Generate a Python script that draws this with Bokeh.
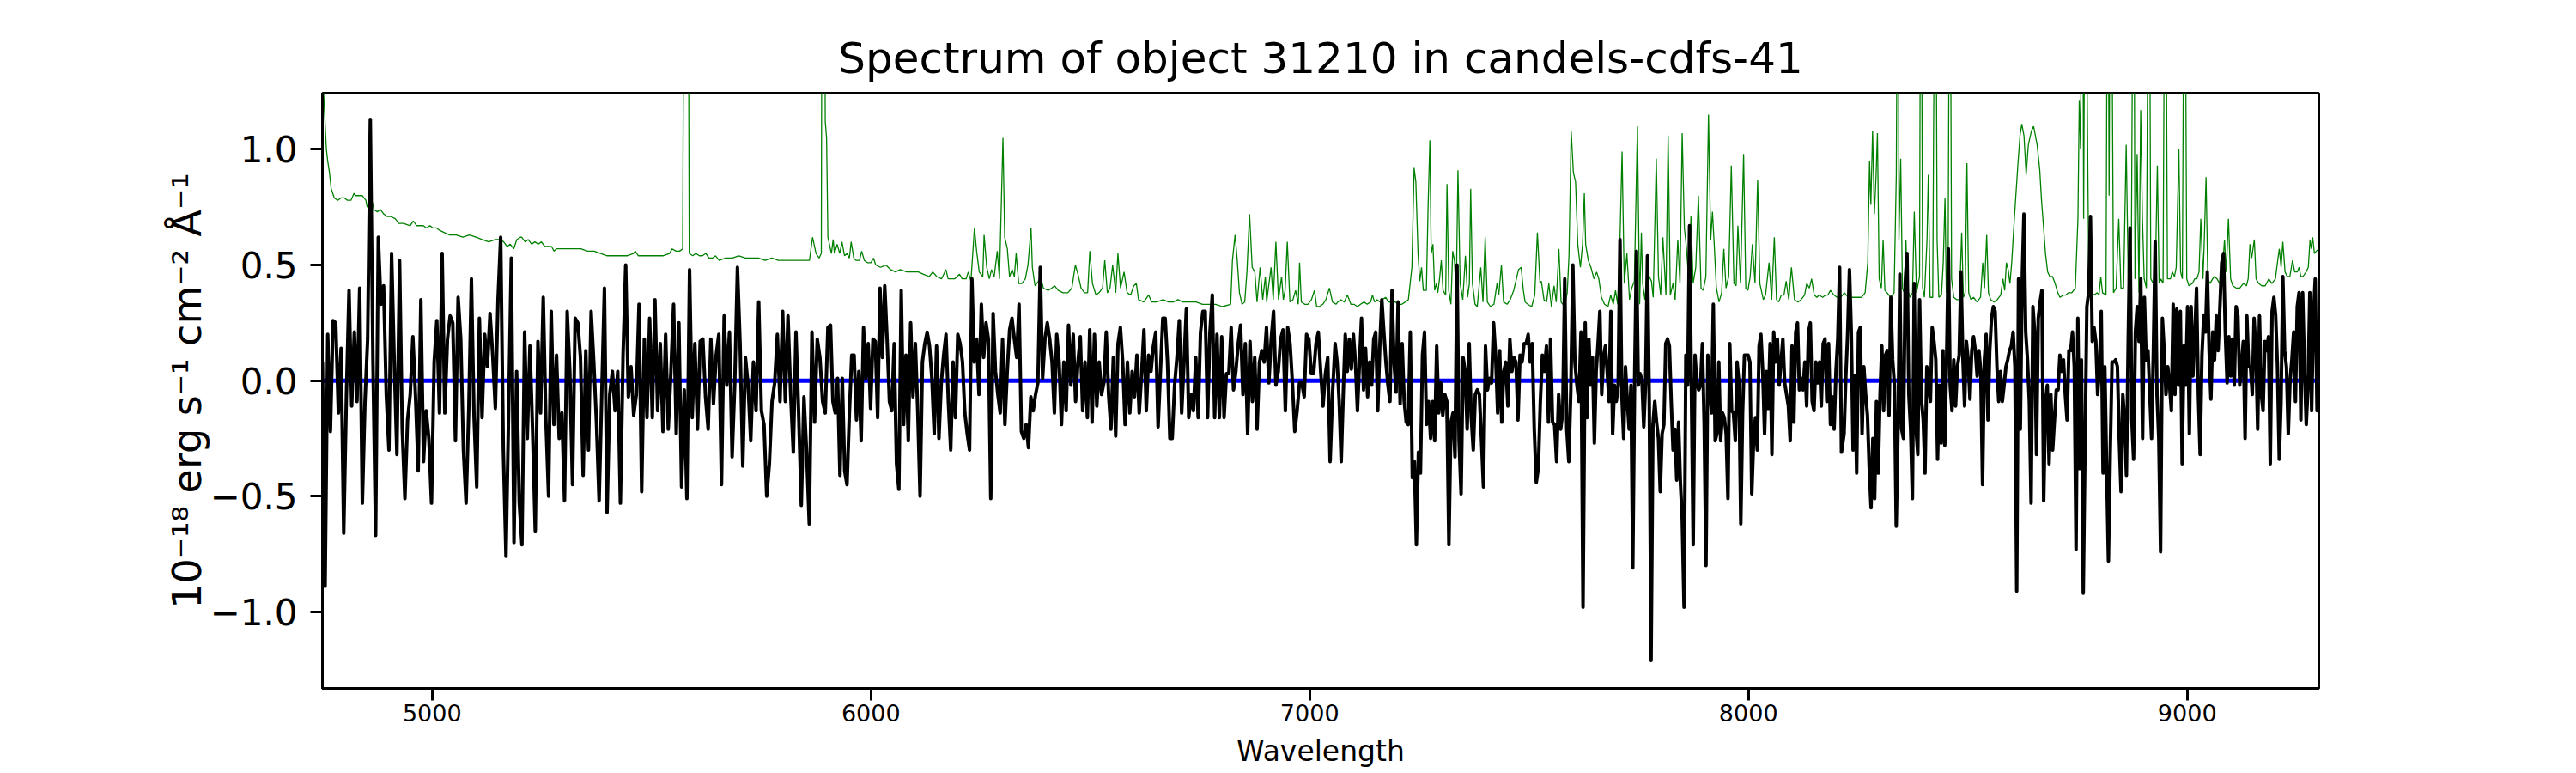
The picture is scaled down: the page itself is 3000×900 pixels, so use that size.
import numpy as np
from bokeh.plotting import figure
from bokeh.models import Range1d, FixedTicker
from bokeh.embed import file_html
from bokeh.resources import INLINE

title_text = "Spectrum of object 31210 in candels-cdfs-41"
x_label = "Wavelength"
y_label = "10⁻¹⁸ erg s⁻¹ cm⁻² Å⁻¹"

x_ticks = [5000, 6000, 7000, 8000, 9000]
x_tick_labels = ["5000", "6000", "7000", "8000", "9000"]
y_ticks = [-1.0, -0.5, 0.0, 0.5, 1.0]
y_tick_labels = ["−1.0", "−0.5", "0.0", "0.5", "1.0"]

# observed flux (black), read in wavelength segments
seg1_range = (4750, 5902)
seg1_flux = [0.08, -0.89, 0.20, -0.22, 0.26, 0.25, -0.14, 0.14, -0.66, -0.07, 0.39, -0.11, 0.21, -0.09, 0.40,
             -0.53, -0.09, 0.18, 1.13, 0.08, -0.67, 0.62, 0.33, 0.41, -0.06, -0.30, 0.55, 0.08, -0.32, 0.52,
             -0.21, -0.51, -0.17, -0.06, 0.19, -0.07, -0.39, 0.35, -0.35, -0.13, -0.25, -0.53, 0.08, 0.26, -0.14,
             0.55, -0.14, 0.18, 0.28, 0.25, -0.26, 0.36, 0.18, -0.30, -0.53, -0.13, 0.44, -0.16, -0.46, 0.27,
             -0.16, 0.20, 0.06, 0.29, 0.11, -0.12, 0.35, 0.62, -0.30, -0.76, -0.13, 0.53, -0.70, 0.04, -0.53,
             -0.71, 0.21, -0.25, 0.15, -0.22, -0.65, 0.17, -0.14, 0.36, -0.17, -0.50, 0.30, -0.19, 0.11, -0.25,
             -0.14, -0.52, 0.30, 0.04, -0.45, 0.27, 0.25, 0.10, -0.41, 0.13, -0.30, 0.30, 0.08, -0.18, -0.52,
             -0.06, 0.40, -0.57, -0.06, 0.04, -0.13, 0.04, -0.53, 0.11, 0.50, -0.07, 0.06, -0.15, -0.06, 0.33,
             -0.48, 0.18, -0.16, 0.27, -0.16, 0.35, -0.13, 0.16, -0.22, 0.20, -0.21, 0.04, 0.33, -0.23, 0.25,
             -0.46, -0.04, -0.51, 0.48, -0.16, 0.16, -0.21, 0.17, 0.18, -0.07, -0.21, 0.18, -0.10, 0.11, 0.20,
             -0.45, 0.28, -0.02, 0.21, -0.33, -0.01, 0.49, 0.16, -0.37, 0.10, -0.02, -0.26, 0.08, -0.13, 0.34,
             -0.13, -0.19, -0.50, -0.36, -0.09, -0.01, 0.20, -0.09, 0.30, -0.09, 0.28, -0.06, -0.31, 0.21, -0.14,
             -0.54, -0.07, -0.31, -0.62, 0.21, -0.18, 0.18, 0.10, -0.09, -0.14, 0.23]

seg2_range = (5908, 7052)
seg2_flux = [0.24, -0.09, -0.14, 0.01, -0.41, 0.01, -0.39, -0.45, -0.14, 0.11, 0.11, -0.17, 0.04, -0.26, 0.23,
             0.01, 0.16, -0.12, 0.18, 0.17, -0.16, 0.40, 0.10, 0.41, 0.18, -0.09, -0.13, 0.16, -0.36, -0.47,
             0.39, -0.19, 0.11, -0.26, 0.25, -0.07, 0.16, -0.13, -0.50, 0.08, 0.16, 0.21, 0.15, 0.01, -0.23,
             0.15, -0.25, -0.01, 0.11, 0.20, -0.09, -0.30, 0.08, -0.16, 0.20, 0.16, 0.08, -0.14, -0.23, -0.30,
             0.44, 0.08, 0.18, -0.06, 0.33, 0.10, 0.25, 0.18, -0.51, 0.29, 0.04, -0.06, -0.14, 0.18, -0.19,
             0.04, 0.22, 0.27, 0.18, 0.10, 0.33, -0.22, -0.25, -0.19, -0.29, -0.07, -0.13, -0.06, -0.01, 0.49,
             0.01, 0.18, 0.25, 0.18, 0.08, -0.14, 0.20, 0.08, -0.19, 0.08, -0.13, 0.24, -0.02, 0.20, -0.09,
             0.08, 0.19, -0.13, 0.08, -0.16, 0.22, -0.18, 0.20, -0.11, 0.08, -0.06, -0.01, 0.21, -0.06, -0.21,
             0.10, -0.24, 0.16, 0.23, 0.08, -0.19, 0.08, -0.14, 0.04, -0.07, 0.11, -0.14, 0.03, 0.22, -0.13,
             0.11, 0.04, 0.15, 0.21, -0.20, 0.04, 0.27, 0.27, 0.08, -0.25, -0.25, -0.02, 0.10, 0.26, -0.14,
             0.08, 0.31, -0.16, -0.06, -0.13, 0.10, -0.16, 0.21, 0.30, 0.30, -0.16, 0.21, 0.37, -0.16, 0.20,
             -0.16, 0.19, -0.16, 0.03, 0.03, 0.23, -0.04, 0.04, 0.16, 0.24, -0.06, 0.16, -0.23, 0.17, -0.09,
             0.10, -0.21, 0.08, 0.13, 0.08, 0.23, -0.01, 0.18, 0.30, -0.02, 0.04, 0.18, 0.22, -0.13, 0.23,
             0.16, -0.01, -0.22, -0.13, -0.01, -0.01, -0.07, 0.20, 0.18, 0.03, 0.03, 0.16, 0.21, 0.04, -0.11,
             0.03, 0.10, -0.35, -0.06]

seg3a_range = (7058, 7623)
seg3a_flux = [0.16, 0.08, -0.09, -0.35, -0.06, 0.20, 0.04, 0.18, 0.05, 0.20, 0.08, -0.13, 0.08, 0.27, -0.04,
              0.14, -0.07, 0.08, -0.02, 0.18, 0.21, -0.13, 0.15, 0.35, 0.21, 0.08, -0.02, -0.09, 0.39, 0.08,
              -0.05, 0.34, -0.10, 0.16, -0.09, -0.18, -0.19, 0.21, -0.42, -0.35, -0.71, -0.31, -0.40, 0.11, 0.21,
              -0.19, -0.09, -0.25, -0.09, -0.26, 0.15, -0.14, -0.01, -0.15, -0.06, -0.09, -0.71, -0.18, -0.14, -0.33,
              0.50, -0.26, -0.49, 0.10, 0.04, -0.21, 0.16, -0.16, -0.30, -0.06, -0.04, -0.06, -0.25, -0.46, 0.15,
              -0.04, 0.01, -0.01, 0.25, 0.11, -0.14, 0.13, -0.18, 0.04, 0.08, -0.11, 0.18, 0.04, 0.10, 0.08,
              -0.17, 0.11, 0.08, 0.16, 0.16, 0.20, 0.08, 0.16, -0.21, -0.44, -0.38, -0.09, 0.11, 0.04, 0.15,
              -0.18, 0.18, -0.18, -0.19, -0.35, -0.06, -0.21, -0.14, 0.44, -0.21, -0.35, -0.04, 0.50, 0.08, -0.02,
              -0.09, 0.21, -0.98]

seg3b_range = (7628, 8212)
seg3b_flux = [0.25, -0.16, 0.18, -0.02, 0.10, -0.27, 0.04, 0.16, 0.30, -0.06, 0.10, 0.15,
              0.04, -0.09, 0.30, -0.23, -0.02, -0.09, -0.02, 0.61, -0.06, -0.25, 0.06, -0.09, -0.21, -0.02, -0.81,
              0.01, 0.56, -0.02, 0.03, 0.00, -0.20, -0.01, 0.54, -0.09, -1.21, -0.19, -0.09, -0.18, -0.25, -0.48,
              -0.23, -0.19, 0.16, 0.18, 0.15, -0.09, -0.30, -0.21, -0.43, -0.18, -0.44, -0.60, -0.98, 0.11, -0.02,
              0.67, -0.02, -0.71, 0.11, -0.01, -0.04, -0.02, 0.16, -0.19, -0.80, 0.11, -0.02, -0.14, 0.33, -0.26,
              -0.23, 0.08, -0.26, -0.14, -0.16, -0.23, -0.51, 0.16, -0.13, -0.14, -0.26, 0.08, -0.01, -0.62, -0.14,
              0.11, 0.11, 0.11, 0.08, -0.49, -0.26, -0.16, -0.30, 0.15, 0.20, 0.04, -0.23, 0.04, -0.12, 0.16,
              -0.32, 0.21, 0.08, 0.18, -0.02, 0.08, 0.18, -0.01, -0.06, -0.11, -0.26, 0.15, -0.18, 0.21, 0.25,
              -0.04, 0.01, -0.04, 0.08, -0.11, 0.21, 0.25, -0.09, -0.13, 0.08, -0.01, 0.08, -0.11, 0.16, 0.18,
              -0.09, 0.16, -0.19, -0.07, -0.21, 0.04, 0.18, 0.49, -0.31]

seg4_range = (8218, 9300)
seg4_flux = [-0.23, 0.02, 0.21, 0.48, 0.21, -0.30, 0.02, -0.40, 0.21, 0.23, -0.23, 0.06, -0.06, -0.15, -0.38,
             -0.55, -0.25, -0.51, -0.09, -0.40, -0.06, 0.15, -0.13, 0.11, 0.13, -0.15, 0.36, 0.09, -0.02, -0.63,
             -0.21, 0.46, -0.21, -0.25, 0.42, 0.55, -0.06, -0.21, -0.51, 0.42, -0.21, -0.32, 0.35, -0.08, -0.17,
             -0.40, 0.06, -0.02, -0.09, 0.23, 0.17, 0.09, -0.34, -0.02, -0.27, 0.13, -0.28, 0.09, 0.57, -0.02,
             -0.13, 0.09, -0.11, 0.06, 0.11, 0.47, 0.11, -0.11, 0.17, 0.09, -0.08, 0.13, 0.19, 0.13, 0.02,
             0.13, 0.04, -0.45, 0.09, 0.20, -0.17, 0.13, 0.27, 0.32, 0.30, 0.06, -0.09, 0.04, -0.09, -0.02,
             0.06, 0.09, 0.13, 0.15, 0.21, 0.06, -0.91, 0.44, -0.21, 0.42, 0.72, 0.21, 0.09, -0.09, -0.53,
             0.32, 0.21, -0.32, 0.27, 0.34, 0.39, -0.52, -0.09, -0.02, -0.36, -0.06, -0.30, -0.17, -0.04, -0.04,
             0.11, 0.04, 0.09, -0.06, -0.17, 0.13, 0.13, 0.21, 0.06, -0.73, 0.27, -0.38, 0.09, -0.92, -0.28,
             0.32, 0.38, 0.71, 0.17, 0.23, 0.17, -0.06, 0.06, 0.30, -0.40, 0.06, -0.38, -0.78, -0.32, 0.08,
             0.08, 0.09, 0.06, -0.25, -0.48, -0.06, -0.17, -0.41, 0.17, 0.66, -0.17, -0.34, 0.21, 0.32, 0.17,
             0.44, -0.25, 0.36, 0.09, 0.13, -0.06, -0.25, 0.13, 0.60, -0.06, -0.25, -0.74, 0.27, 0.13, -0.06,
             0.06, -0.02, -0.13, 0.33, -0.06, 0.31, -0.02, 0.30, -0.36, 0.15, -0.02, 0.32, -0.23, 0.32, 0.02,
             0.19, 0.40, -0.06, -0.32, 0.11, 0.28, 0.21, 0.47, 0.13, -0.08, 0.21, 0.09, 0.28, 0.13, 0.32,
             0.51, 0.55, 0.21, -0.01, 0.19, 0.02, 0.18, -0.02, 0.32, 0.28, -0.02, 0.06, 0.17, -0.25, 0.28,
             0.06, 0.06, -0.06, 0.27, 0.13, -0.21, 0.28, -0.06, -0.13, 0.17, 0.13, 0.19, -0.36, 0.30, 0.36,
             0.28, 0.06, -0.34, -0.09, 0.45, 0.13, 0.06, -0.23, 0.00, 0.09, 0.21, -0.09, 0.32, 0.38, -0.17,
             0.38, 0.06, -0.19, -0.02, 0.38, -0.13, 0.28, 0.44, -0.13, -0.06]

# sky / noise spectrum (green)
sky_wave = [4750, 4759, 4762, 4766, 4770, 4777, 4785, 4792, 4800, 4807, 4815, 4822, 4826, 4834, 4841, 4849,
            4852, 4856, 4864, 4867, 4875, 4882, 4890, 4897, 4905, 4916, 4924, 4935, 4950, 4957, 4965, 4976,
            4980, 4987, 4995, 5002, 5010, 5017, 5028, 5040, 5047, 5055, 5070, 5085, 5100, 5114, 5129, 5144,
            5156, 5163, 5171, 5178, 5186, 5193, 5201, 5204, 5212, 5219, 5227, 5234, 5242, 5249, 5257, 5264,
            5272, 5278, 5283, 5291, 5302, 5317, 5332, 5339, 5354, 5369, 5384, 5399, 5414, 5429, 5444, 5459,
            5463, 5470, 5482, 5496, 5511, 5526, 5541, 5547, 5556, 5564, 5571, 5575, 5579, 5583, 5586, 5594,
            5601, 5609, 5616, 5624, 5631, 5639, 5646, 5654, 5669, 5684, 5699, 5714, 5729, 5744, 5759, 5774,
            5789, 5804, 5819, 5834, 5849, 5860, 5867, 5875, 5882, 5887, 5889, 5893, 5896, 5899, 5902,
            5910, 5914, 5917, 5923, 5929, 5934, 5940, 5946, 5951, 5955, 5961, 5966, 5974, 5979, 5985, 5992,
            6000, 6006, 6011, 6022, 6034, 6045, 6056, 6067, 6082, 6097, 6108, 6120, 6133, 6141, 6150, 6161,
            6171, 6176, 6191, 6202, 6208, 6217, 6222, 6228, 6236, 6241, 6247, 6255, 6258, 6264, 6270, 6275,
            6281, 6288, 6293, 6301, 6305, 6311, 6316, 6322, 6327, 6331, 6337, 6344, 6352, 6358, 6365, 6368,
            6374, 6382, 6387, 6393, 6404, 6412, 6419, 6427, 6438, 6449, 6458, 6466, 6472, 6479, 6487, 6494,
            6499, 6505, 6513, 6520, 6528, 6533, 6539, 6545, 6551, 6558, 6563, 6569, 6577, 6584, 6592, 6599,
            6605, 6610, 6622, 6633, 6640, 6651, 6666, 6678, 6689, 6700, 6711, 6719, 6734, 6741, 6756, 6771,
            6786, 6801, 6820, 6824, 6830, 6835, 6840, 6846, 6852, 6857, 6863, 6869, 6875, 6880, 6887, 6893,
            6899, 6902, 6908, 6912, 6917, 6923, 6929, 6936, 6940, 6944, 6949, 6955, 6962, 6968, 6974, 6977,
            6981, 6989, 6996, 7004, 7011, 7016, 7022, 7030, 7037, 7045, 7052, 7060,
            7064, 7071, 7079, 7086, 7094, 7101, 7109, 7116, 7124, 7131, 7139, 7143, 7148, 7154, 7160, 7165,
            7173, 7180, 7188, 7195, 7203, 7210, 7218, 7225, 7233, 7238, 7242, 7247, 7251, 7255, 7259, 7266,
            7270, 7274, 7277, 7281, 7285, 7289, 7292, 7296, 7300, 7304, 7310, 7313, 7317, 7322, 7326, 7330,
            7334, 7338, 7343, 7349, 7355, 7360, 7364, 7367, 7371, 7377, 7382, 7390, 7395, 7400, 7405, 7412,
            7420, 7427, 7431, 7437, 7442, 7450, 7457, 7465, 7470, 7476, 7482, 7487, 7491, 7497, 7506, 7513,
            7519, 7525, 7528, 7534, 7540, 7545, 7551, 7557, 7562, 7568, 7573, 7581, 7587, 7591, 7596, 7601,
            7606, 7611, 7617, 7622, 7626, 7629, 7635, 7641, 7648, 7654, 7659, 7665, 7672, 7680, 7686, 7692,
            7697, 7702, 7707, 7712, 7717, 7723, 7729, 7734, 7740, 7747, 7752, 7756, 7759, 7764, 7770, 7774,
            7779, 7783, 7790, 7795, 7800, 7805, 7812, 7817, 7822, 7828, 7833, 7839, 7844, 7849, 7854, 7858,
            7864, 7869, 7874, 7880, 7886, 7892, 7897, 7903, 7909, 7914, 7918, 7922, 7927, 7933, 7939, 7944,
            7949, 7955, 7961, 7967, 7972, 7976, 7982, 7989, 7994, 7999, 8004, 8009, 8015, 8021, 8026, 8034,
            8039, 8047, 8053, 8059, 8064, 8069, 8075, 8081, 8086, 8092, 8098, 8105, 8113, 8120, 8128, 8133,
            8139, 8144, 8150, 8156, 8161, 8169, 8176, 8181, 8187, 8195, 8202, 8210,
            8219, 8227, 8235, 8243, 8250, 8258, 8266, 8272, 8276, 8279, 8283, 8287, 8291, 8294, 8298, 8303,
            8307, 8311, 8316, 8324, 8332, 8337, 8341, 8343, 8347, 8351, 8355, 8359, 8362, 8368, 8374, 8378,
            8383, 8390, 8393, 8397, 8401, 8407, 8410, 8414, 8420, 8426, 8430, 8434, 8440, 8444, 8448, 8451,
            8455, 8459, 8463, 8468, 8475, 8481, 8486, 8490, 8494, 8498, 8502, 8507, 8513, 8521, 8529, 8534,
            8538, 8543, 8547, 8552, 8560, 8567, 8575, 8580, 8584, 8588, 8592, 8596, 8600, 8606, 8614, 8619,
            8623, 8628, 8633, 8638, 8645, 8650, 8654, 8658, 8664, 8668, 8672, 8677, 8682, 8687, 8693, 8699,
            8705, 8710, 8718, 8723, 8730, 8737, 8745, 8751, 8754, 8757, 8761, 8764, 8768, 8772, 8776, 8782,
            8788, 8795, 8799, 8803, 8807, 8815, 8819, 8822, 8826, 8832, 8838, 8844, 8849, 8855, 8861, 8866,
            8870, 8873, 8878, 8881, 8886, 8890, 8894, 8898, 8902, 8907, 8913, 8917, 8923, 8927, 8932, 8936,
            8940, 8945, 8950, 8955, 8962, 8966, 8971, 8975, 8981, 8985, 8989, 8994, 8999, 9004, 9012, 9017,
            9022, 9027, 9031, 9036, 9039, 9043, 9047, 9052, 9058, 9062, 9068, 9074, 9079, 9085, 9089, 9094,
            9099, 9104, 9112, 9120, 9128, 9135, 9139, 9143, 9147, 9153, 9157, 9163, 9170, 9178, 9186, 9193,
            9201, 9207, 9210, 9214, 9218, 9223, 9228, 9234, 9240, 9245, 9251, 9255, 9259, 9264, 9271, 9276,
            9280, 9283, 9286, 9290, 9294, 9300]
sky_flux = [1.35, 1.00, 0.95, 0.90, 0.83, 0.79, 0.78, 0.79, 0.79, 0.78, 0.78, 0.81, 0.80, 0.80, 0.80, 0.78,
            0.75, 0.76, 0.77, 0.74, 0.73, 0.74, 0.72, 0.71, 0.71, 0.70, 0.68, 0.68, 0.67, 0.69, 0.67, 0.67,
            0.67, 0.66, 0.67, 0.66, 0.66, 0.65, 0.64, 0.63, 0.63, 0.63, 0.62, 0.63, 0.62, 0.61, 0.60, 0.61,
            0.61, 0.60, 0.58, 0.59, 0.57, 0.61, 0.62, 0.62, 0.60, 0.61, 0.59, 0.60, 0.59, 0.60, 0.58, 0.58,
            0.58, 0.56, 0.57, 0.57, 0.57, 0.57, 0.57, 0.57, 0.56, 0.56, 0.55, 0.54, 0.54, 0.54, 0.54, 0.55,
            0.56, 0.54, 0.54, 0.54, 0.54, 0.54, 0.55, 0.57, 0.56, 0.56, 0.57, 2.50, 2.50, 2.50, 0.55, 0.54,
            0.55, 0.54, 0.54, 0.55, 0.53, 0.53, 0.54, 0.52, 0.53, 0.53, 0.54, 0.53, 0.53, 0.53, 0.52, 0.53,
            0.52, 0.52, 0.52, 0.52, 0.52, 0.52, 0.62, 0.55, 0.53, 0.55, 2.50, 2.50, 1.12, 1.05, 0.62,
            0.55, 0.61, 0.55, 0.59, 0.55, 0.60, 0.54, 0.55, 0.53, 0.60, 0.53, 0.52, 0.52, 0.56, 0.52, 0.51,
            0.51, 0.53, 0.50, 0.49, 0.50, 0.48, 0.47, 0.48, 0.47, 0.47, 0.47, 0.46, 0.45, 0.47, 0.45, 0.44,
            0.48, 0.44, 0.44, 0.46, 0.44, 0.44, 0.47, 0.43, 0.66, 0.56, 0.47, 0.45, 0.63, 0.49, 0.44, 0.48,
            0.45, 0.56, 0.44, 1.05, 0.62, 0.57, 0.45, 0.48, 0.45, 0.55, 0.42, 0.42, 0.44, 0.50, 0.66, 0.49,
            0.41, 0.43, 0.45, 0.40, 0.39, 0.40, 0.41, 0.39, 0.38, 0.38, 0.40, 0.50, 0.46, 0.40, 0.38, 0.38,
            0.56, 0.42, 0.37, 0.38, 0.40, 0.52, 0.38, 0.40, 0.50, 0.38, 0.55, 0.40, 0.47, 0.38, 0.37, 0.41,
            0.42, 0.35, 0.34, 0.37, 0.34, 0.34, 0.35, 0.34, 0.34, 0.35, 0.34, 0.34, 0.34, 0.34, 0.33, 0.33,
            0.33, 0.32, 0.33, 0.52, 0.63, 0.52, 0.38, 0.33, 0.34, 0.47, 0.72, 0.49, 0.47, 0.34, 0.49, 0.35,
            0.45, 0.34, 0.43, 0.49, 0.35, 0.60, 0.35, 0.45, 0.35, 0.39, 0.60, 0.34, 0.35, 0.39, 0.33, 0.51,
            0.34, 0.33, 0.33, 0.35, 0.39, 0.32, 0.32, 0.33, 0.35, 0.40, 0.34, 0.33,
            0.34, 0.35, 0.34, 0.37, 0.33, 0.33, 0.32, 0.33, 0.34, 0.33, 0.34, 0.37, 0.34, 0.35, 0.34, 0.35,
            0.36, 0.34, 0.34, 0.34, 0.33, 0.33, 0.34, 0.35, 0.49, 0.92, 0.86, 0.55, 0.43, 0.49, 0.39, 0.39,
            0.76, 1.04, 0.55, 0.59, 0.39, 0.42, 0.38, 0.44, 0.52, 0.39, 0.37, 0.85, 0.39, 0.33, 0.56, 0.52,
            0.37, 0.91, 0.42, 0.35, 0.54, 0.36, 0.42, 0.83, 0.42, 0.33, 0.32, 0.49, 0.34, 0.62, 0.34, 0.32,
            0.33, 0.42, 0.37, 0.50, 0.34, 0.33, 0.35, 0.39, 0.43, 0.48, 0.49, 0.39, 0.34, 0.33, 0.32, 0.37,
            0.64, 0.42, 0.43, 0.35, 0.34, 0.42, 0.32, 0.41, 0.34, 0.57, 0.34, 0.32, 0.38, 0.54, 1.08, 0.90,
            0.86, 0.59, 0.49, 0.59, 0.81, 0.59, 0.52, 0.49, 0.44, 0.47, 0.44, 0.36, 0.33, 0.32, 0.37, 0.33,
            0.39, 0.33, 0.59, 0.99, 0.42, 0.55, 0.35, 0.40, 0.43, 1.10, 0.33, 0.64, 0.42, 0.35, 0.49, 0.45,
            0.43, 0.36, 0.96, 0.45, 0.37, 0.62, 0.37, 1.06, 0.37, 0.42, 0.35, 0.61, 0.42, 1.07, 0.66, 0.59,
            0.44, 0.71, 0.42, 0.49, 0.80, 0.40, 0.39, 0.45, 1.15, 0.61, 0.73, 0.59, 0.40, 0.34, 0.38, 0.57,
            0.40, 0.45, 0.93, 0.42, 0.41, 0.67, 0.42, 0.98, 0.40, 0.39, 0.45, 0.59, 0.42, 0.87, 0.42, 0.35,
            0.37, 0.51, 0.35, 0.62, 0.35, 0.34, 0.37, 0.37, 0.43, 0.35, 0.49, 0.35, 0.34, 0.35, 0.37, 0.42,
            0.40, 0.44, 0.37, 0.36, 0.37, 0.36, 0.37, 0.37, 0.39, 0.37, 0.36, 0.36,
            0.38, 0.36, 0.36, 0.36, 0.36, 0.36, 0.38, 0.51, 0.95, 0.76, 1.08, 0.72, 0.89, 1.07, 0.44, 0.40,
            0.61, 0.39, 0.38, 0.36, 0.38, 0.89, 2.50, 0.61, 0.96, 0.40, 0.38, 0.61, 0.40, 0.36, 0.38, 0.73,
            0.38, 0.45, 2.50, 0.40, 0.36, 0.61, 0.89, 0.36, 0.36, 2.50, 0.61, 0.36, 0.37, 0.51, 0.79, 0.38,
            0.40, 2.50, 0.44, 0.36, 0.35, 0.35, 0.64, 0.36, 0.38, 0.94, 0.38, 0.35, 0.36, 0.34, 0.36, 0.51,
            0.40, 0.63, 0.38, 0.35, 0.34, 0.35, 0.37, 0.44, 0.39, 0.51, 0.48, 0.42, 0.51, 0.70, 0.93, 1.06,
            1.11, 1.06, 0.89, 1.02, 1.08, 1.10, 1.06, 1.02, 0.91, 0.78, 0.68, 0.55, 0.47, 0.45, 0.45, 0.42,
            0.38, 0.36, 0.37, 0.37, 0.38, 0.38, 0.40, 0.70, 1.21, 1.00, 2.50, 0.70, 2.50, 1.25, 0.38, 0.38,
            0.37, 0.38, 0.37, 0.45, 0.38, 0.37, 2.50, 0.80, 2.50, 0.38, 0.40, 0.70, 0.40, 0.40, 1.02, 0.40,
            0.39, 0.64, 2.50, 0.44, 0.98, 0.38, 1.17, 0.70, 0.44, 0.40, 2.50, 0.44, 0.42, 0.42, 0.93, 0.42,
            0.44, 0.42, 2.50, 0.44, 0.44, 0.47, 0.45, 0.49, 1.00, 0.47, 0.44, 2.50, 0.44, 0.41, 0.42, 0.44,
            0.44, 0.47, 0.70, 0.44, 0.61, 0.88, 0.44, 0.42, 0.44, 0.45, 0.44, 0.42, 0.44, 0.61, 0.47, 0.70,
            0.44, 0.41, 0.40, 0.40, 0.42, 0.41, 0.44, 0.59, 0.53, 0.61, 0.44, 0.42, 0.41, 0.41, 0.44, 0.42,
            0.44, 0.53, 0.57, 0.49, 0.60, 0.47, 0.45, 0.45, 0.52, 0.47, 0.47, 0.49, 0.45, 0.45, 0.47, 0.49,
            0.61, 0.57, 0.62, 0.55, 0.56, 0.57]

# fitted continuum / model (blue)
model_wave = [4750, 9300]
model_flux = [0.0, 0.0]

# ---- build the wavelength grid for the observed flux ----
segments = [(seg1_range, seg1_flux), (seg2_range, seg2_flux), (seg3a_range, seg3a_flux),
            (seg3b_range, seg3b_flux), (seg4_range, seg4_flux)]
obs_wave = np.concatenate([np.linspace(r[0], r[1], len(f)) for r, f in segments])
obs_flux = np.concatenate([np.asarray(f) for _, f in segments])

x_min, x_max = 4750, 9300
y_min, y_max = 1.1 * obs_flux.min(), 1.1 * obs_flux.max()

FONT = "DejaVu Sans"

p = figure(width=2984, output_backend="svg", toolbar_location=None,
           frame_width=2325, frame_height=693,
           x_range=Range1d(x_min, x_max), y_range=Range1d(y_min, y_max),
           min_border_left=375, min_border_right=284, min_border_top=108, min_border_bottom=83,
           background_fill_color="white", border_fill_color="white")

p.title.text = title_text
p.title.align = "center"
p.title.text_font = FONT
p.title.text_font_size = "50px"
p.title.text_font_style = "normal"
p.title.text_color = "black"
p.title.standoff = 24

p.grid.visible = False
p.outline_line_color = "black"
p.outline_line_width = 3
p.outline_line_alpha = 1.0

p.line(sky_wave, sky_flux, line_color="#008000", line_width=1.3)
p.line(model_wave, model_flux, line_color="#0000ff", line_width=5)
p.line(obs_wave, obs_flux, line_color="#000000", line_width=4, line_join="round")

xa = p.xaxis[0]
xa.ticker = FixedTicker(ticks=x_ticks)
xa.major_label_overrides = {float(t): s for t, s in zip(x_ticks, x_tick_labels)}
xa.major_label_text_font = FONT
xa.major_label_text_font_size = "27px"
xa.major_label_text_color = "black"
xa.major_label_standoff = 4
xa.axis_label = x_label
xa.axis_label_text_font = FONT
xa.axis_label_text_font_size = "33px"
xa.axis_label_text_font_style = "normal"
xa.axis_label_text_color = "black"
xa.axis_label_standoff = 12

ya = p.yaxis[0]
ya.ticker = FixedTicker(ticks=y_ticks)
ya.major_label_overrides = {float(t): s for t, s in zip(y_ticks, y_tick_labels)}
ya.major_label_text_font = FONT
ya.major_label_text_font_size = "42px"
ya.major_label_text_color = "black"
ya.major_label_standoff = 15
ya.axis_label = y_label
ya.axis_label_text_font = FONT
ya.axis_label_text_font_size = "46px"
ya.axis_label_text_font_style = "normal"
ya.axis_label_text_color = "black"
ya.axis_label_standoff = -3

for ax in (xa, ya):
    ax.axis_line_color = "black"
    ax.axis_line_width = 3
    ax.major_tick_line_color = "black"
    ax.major_tick_line_width = 3
    ax.major_tick_out = 14
    ax.major_tick_in = 0
    ax.minor_tick_line_color = None

with open("out.html", "w") as fh:
    fh.write(file_html(p, INLINE))
